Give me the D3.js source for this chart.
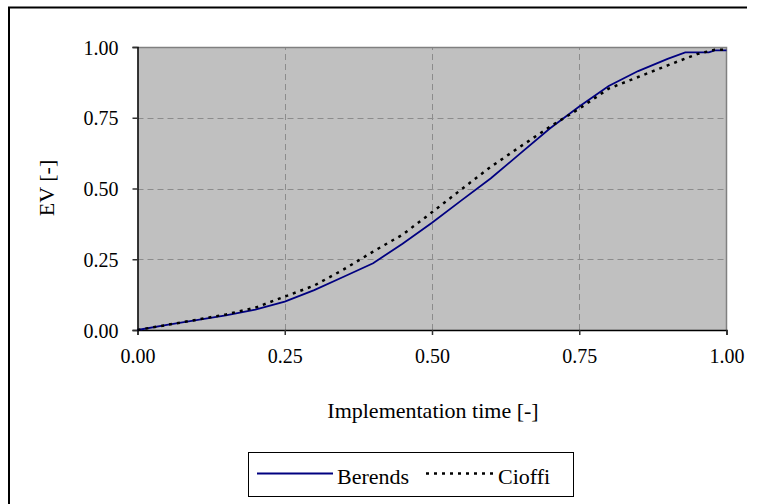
<!DOCTYPE html>
<html><head><meta charset="utf-8">
<script src="https://cdn.jsdelivr.net/npm/d3@7"></script>
<style>body{margin:0;background:#fff}svg{display:block}
svg text{font-family:"Liberation Serif","DejaVu Serif",serif !important;fill:#000}</style>
</head><body><svg id="c" width="757" height="504"></svg>
<script>
const berendsX = [0,0.05,0.1,0.15,0.2,0.25,0.3,0.35,0.4,0.45,0.5,0.55,0.6,0.65,0.7,0.75,0.8,0.85,0.9,0.93,0.97,0.98,1.0];
const berendsY = [0,0.018,0.035,0.052,0.072,0.10,0.141,0.188,0.236,0.305,0.379,0.458,0.536,0.624,0.712,0.79,0.862,0.915,0.958,0.981,0.981,0.988,0.988];
const cioffiX = [0,0.05,0.1,0.15,0.2,0.25,0.3,0.35,0.4,0.45,0.5,0.55,0.6,0.65,0.7,0.75,0.8,0.85,0.9,0.95,0.98,1.0];
const cioffiY = [0,0.018,0.036,0.055,0.079,0.118,0.157,0.214,0.277,0.337,0.416,0.497,0.577,0.648,0.718,0.782,0.853,0.894,0.935,0.975,0.99,0.99];
const ticks = [0,0.25,0.5,0.75,1.0];
const seriesNames = ["Berends","Cioffi"];
const xTitle = "Implementation time [-]";
const yTitle = "EV [-]";

const svg = d3.select("#c");
const x = d3.scaleLinear().domain([0,1]).range([137.5,726.5]);
const y = d3.scaleLinear().domain([0,1]).range([330,47]);

// outer frame (left and top visible)
svg.append("line").attr("x1",8).attr("x2",747).attr("y1",7.5).attr("y2",7.5).attr("stroke","#000").attr("stroke-width",2);
svg.append("line").attr("x1",9).attr("x2",9).attr("y1",7).attr("y2",504).attr("stroke","#000").attr("stroke-width",2);

// plot background
svg.append("rect").attr("x",x(0)).attr("y",y(1)).attr("width",x(1)-x(0)).attr("height",y(0)-y(1)).attr("fill","#c0c0c0");

// grid
const g = svg.append("g");
ticks.filter(t=>t>0&&t<1).forEach(t=>{
  g.append("line").attr("x1",x(0)).attr("x2",x(1)).attr("y1",Math.round(y(t))+0.5).attr("y2",Math.round(y(t))+0.5)
   .attr("stroke","#8c8c8c").attr("stroke-dasharray","6,4");
  g.append("line").attr("y1",y(0)).attr("y2",y(1)).attr("x1",Math.round(x(t))+0.5).attr("x2",Math.round(x(t))+0.5)
   .attr("stroke","#8c8c8c").attr("stroke-dasharray","6,4");
});
// top/right border
svg.append("path").attr("d",`M${x(0)},${y(1)+0.5}H${x(1)}V${y(0)}`).attr("fill","none").attr("stroke","#808080").attr("stroke-width",1.5);

// axes
const fmt = d3.format(".2f");
const xa = svg.append("g").attr("transform",`translate(0,${y(0)})`)
  .call(d3.axisBottom(x).tickValues(ticks).tickFormat(fmt).tickSize(5).tickPadding(14));
const ya = svg.append("g").attr("transform",`translate(${x(0)},0)`)
  .call(d3.axisLeft(y).tickValues(ticks).tickFormat(fmt).tickSize(5).tickPadding(14));
[xa,ya].forEach(a=>{
  a.attr("font-family",null);
  a.select(".domain").attr("stroke","#000").attr("stroke-width",1.5);
  a.selectAll(".tick line").attr("stroke","#333").attr("stroke-width",1.5);
  a.selectAll("text").attr("font-size",20);
});
ya.selectAll(".tick text").attr("dy","0.35em");

// lines
const lineGen = d3.line().x(d=>x(d[0])).y(d=>y(d[1]));
const bData = berendsX.map((v,i)=>[v,berendsY[i]]);
const cData = cioffiX.map((v,i)=>[v,cioffiY[i]]);
svg.append("path").datum(bData).attr("d",lineGen).attr("fill","none").attr("stroke","#000080").attr("stroke-width",1.8);
svg.append("path").datum(cData).attr("d",lineGen).attr("fill","none").attr("stroke","#000").attr("stroke-width",2.5).attr("stroke-dasharray","3,5");

// titles
svg.append("text").attr("x",433).attr("y",418).attr("text-anchor","middle").attr("font-size",22).text(xTitle);
svg.append("text").attr("transform","translate(54,188) rotate(-90)").attr("text-anchor","middle").attr("font-size",22).text(yTitle);

// legend
const lg = svg.append("g");
lg.append("rect").attr("x",248.5).attr("y",452.5).attr("width",325).attr("height",44).attr("fill","#fff").attr("stroke","#000").attr("stroke-width",1);
lg.append("line").attr("x1",257).attr("x2",333).attr("y1",473.5).attr("y2",473.5).attr("stroke","#000080").attr("stroke-width",1.8);
lg.append("text").attr("x",337).attr("y",484).attr("font-size",22).text(seriesNames[0]);
lg.append("line").attr("x1",426).attr("x2",494).attr("y1",473.5).attr("y2",473.5).attr("stroke","#000").attr("stroke-width",2.5).attr("stroke-dasharray","3,5");
lg.append("text").attr("x",498).attr("y",484).attr("font-size",22).text(seriesNames[1]);
</script></body></html>
